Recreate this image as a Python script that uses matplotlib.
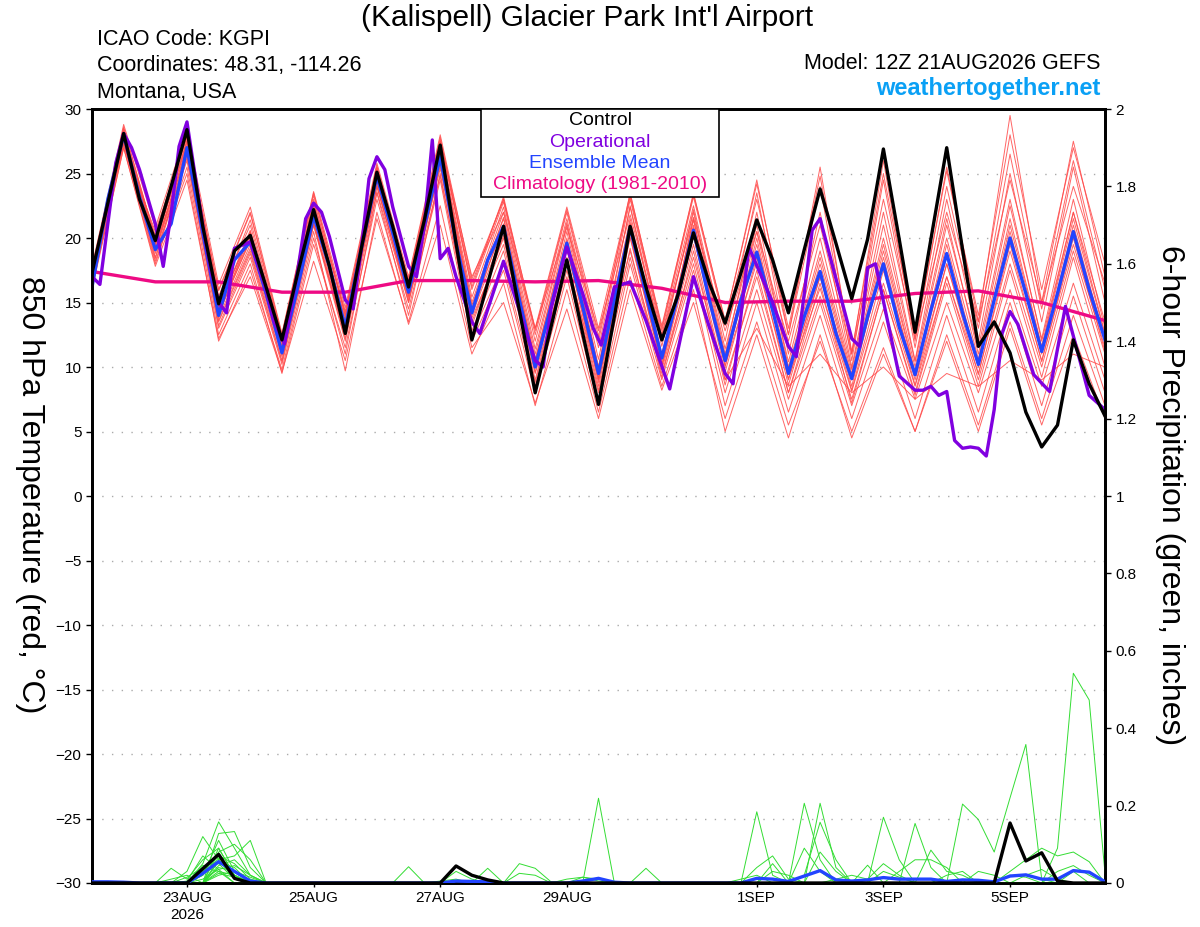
import numpy as np
import matplotlib
matplotlib.use("Agg")
from matplotlib import pyplot as plt
from matplotlib.patches import Rectangle

plt.rcParams['font.family'] = ['Liberation Sans', 'DejaVu Sans']

# forecast hours (GEFS 12Z 21AUG2026 run)
hours = list(range(0, 385, 6))
member_hours = list(range(0, 385, 12))

tick_hours = [36, 84, 132, 180, 252, 300, 348]
tick_labels = ["23AUG\n2026", "25AUG", "27AUG", "29AUG", "1SEP", "3SEP", "5SEP"]

# 850 hPa temperature, deg C
control_temp = [17.3, 22.7, 28.1, 23.0, 19.8, 24.0, 28.4, 20.9, 14.9, 19.0, 20.2, 16.2, 12.1,
                17.3, 22.2, 17.8, 12.6, 19.1, 25.1, 20.9, 16.2, 21.4, 27.2, 19.6, 12.1,
                16.5, 20.9, 14.4, 8.0, 13.1, 18.3, 12.6, 7.1, 13.9, 20.9, 16.2, 12.1,
                15.5, 20.4, 16.5, 13.4, 17.3, 21.4, 18.3, 14.2, 19.1, 23.8, 19.6, 15.3,
                19.9, 26.9, 19.9, 12.7, 19.9, 27.0, 19.1, 11.6, 13.5, 11.1, 6.5, 3.8,
                5.5, 12.1, 8.7, 6.2]
mean_temp = [16.2, 23.0, 28.0, 23.2, 19.1, 21.1, 27.0, 20.4, 14.0, 18.3, 19.7, 15.7, 11.1,
             16.2, 21.7, 17.8, 13.1, 19.1, 24.8, 20.4, 15.8, 20.9, 26.3, 19.6, 14.2,
             18.3, 20.9, 15.2, 10.0, 14.7, 19.6, 14.7, 9.5, 15.2, 20.8, 15.7, 10.7,
             15.5, 20.6, 15.2, 10.5, 15.2, 18.9, 14.4, 9.5, 13.9, 17.4, 12.6, 9.1,
             13.9, 18.0, 13.1, 9.4, 14.4, 18.8, 14.2, 10.2, 15.2, 20.0, 15.7, 11.2,
             15.7, 20.5, 16.0, 12.1]

# operational run has its own (irregular) output hours
op_hours = [0, 3, 9, 12, 15, 18, 24, 27, 30, 33, 36, 42, 45, 48, 51, 54, 60, 66, 69, 73,
            78, 81, 84, 87, 90, 96, 99, 102, 105, 108, 111, 114, 120, 123, 126, 129, 132,
            135, 138, 144, 147, 156, 162, 168, 171, 174, 180, 186, 190, 193, 198, 204,
            210, 219, 228, 234, 240, 243, 249, 258, 264, 267, 273, 276, 288, 291, 294,
            297, 306, 312, 315, 318, 321, 324, 327, 330, 333, 336, 339, 342, 345, 348,
            351, 357, 363, 369, 378, 384]
op_temp = [17.0, 16.4, 25.8, 28.1, 27.0, 25.3, 21.1, 17.8, 21.9, 27.1, 29.0, 20.9, 17.5,
           15.0, 14.2, 19.2, 19.7, 16.0, 13.5, 11.8, 17.5, 21.5, 22.7, 22.0, 20.1, 15.2,
           14.5, 19.0, 24.6, 26.3, 25.3, 22.4, 17.8, 17.0, 21.0, 27.6, 18.4, 19.2, 17.0,
           13.5, 12.6, 18.2, 14.4, 10.5, 10.0, 14.5, 19.3, 15.7, 13.0, 11.7, 16.2, 16.6,
           13.6, 8.3, 17.0, 13.1, 9.5, 8.7, 19.3, 15.0, 11.6, 10.8, 20.6, 21.5, 12.2,
           11.6, 17.7, 18.0, 9.3, 8.2, 8.2, 8.5, 7.8, 8.1, 4.3, 3.7, 3.8, 3.7, 3.1, 6.7,
           12.6, 14.3, 13.3, 9.4, 8.1, 14.7, 7.8, 6.7]

clim_hours = list(range(0, 385, 24))
clim_temp = [17.4, 16.6, 16.6, 15.8, 15.8, 16.7, 16.7, 16.6, 16.7, 16.1, 15.0, 15.1, 15.1,
             15.7, 15.9, 15.0, 13.6]

# ensemble members, 12-hourly
member_temp = [
    [17.0, 27.5, 19.5, 27.5, 14.5, 20.5, 11.5, 22.5, 13.0, 25.0, 16.0, 27.0, 15.0, 22.0, 11.0, 21.0, 10.0, 22.5, 12.0, 22.0, 11.0, 22.0, 10.0, 19.0, 9.5, 20.0, 10.0, 21.0, 11.5, 23.0, 12.0, 22.0, 13.5],
    [16.5, 28.0, 18.5, 26.5, 13.5, 19.0, 10.5, 21.0, 12.5, 24.5, 15.5, 26.0, 13.5, 20.0, 9.0, 18.5, 8.5, 20.0, 10.0, 19.5, 9.0, 17.0, 8.0, 15.5, 7.5, 16.0, 8.0, 17.0, 9.0, 18.0, 10.0, 19.0, 11.0],
    [17.5, 28.5, 20.0, 28.0, 15.5, 21.0, 12.0, 23.0, 14.0, 25.5, 16.5, 27.5, 16.5, 23.0, 12.5, 22.0, 12.0, 23.5, 13.0, 23.5, 13.5, 24.5, 12.5, 25.5, 11.0, 26.0, 12.0, 25.5, 13.5, 29.5, 15.0, 27.5, 17.0],
    [16.0, 27.0, 18.0, 25.5, 12.5, 18.0, 9.5, 19.5, 11.5, 23.0, 14.5, 24.5, 12.0, 17.5, 8.0, 17.0, 7.0, 18.0, 9.0, 17.5, 7.0, 15.0, 6.5, 14.0, 6.0, 13.5, 6.0, 14.0, 6.5, 15.0, 7.0, 15.5, 8.0],
    [17.2, 27.8, 19.8, 27.2, 14.8, 20.2, 11.8, 22.2, 13.8, 24.8, 16.2, 26.8, 14.8, 21.5, 10.5, 20.5, 10.0, 21.5, 11.0, 21.0, 10.5, 19.5, 9.5, 18.0, 9.0, 19.0, 9.5, 19.5, 10.0, 21.0, 11.5, 21.5, 12.5],
    [16.8, 28.2, 19.0, 26.8, 13.8, 19.5, 11.0, 21.5, 12.8, 24.0, 15.2, 25.8, 14.0, 20.5, 10.2, 19.8, 9.0, 21.0, 10.5, 21.5, 10.0, 20.0, 9.0, 17.5, 8.5, 18.5, 9.0, 18.0, 10.0, 20.5, 11.0, 21.0, 12.0],
    [17.4, 27.2, 20.5, 27.8, 16.0, 22.0, 12.5, 23.5, 14.0, 25.2, 16.8, 27.8, 16.0, 22.8, 12.0, 21.5, 11.5, 23.0, 12.5, 22.5, 12.0, 23.5, 11.0, 22.0, 10.0, 22.0, 10.5, 23.0, 12.0, 25.0, 13.5, 25.5, 15.0],
    [16.4, 27.6, 18.8, 26.0, 13.0, 18.5, 10.2, 20.5, 9.7, 22.0, 13.3, 21.0, 11.0, 16.5, 7.0, 16.0, 6.5, 17.0, 8.5, 16.0, 5.0, 12.5, 4.5, 12.5, 4.5, 11.0, 5.0, 12.0, 5.0, 13.0, 5.5, 12.5, 6.0],
    [17.0, 28.0, 19.2, 27.0, 14.2, 19.8, 11.2, 21.8, 13.2, 24.6, 15.6, 26.4, 14.4, 21.0, 10.4, 19.6, 9.6, 20.8, 10.6, 20.8, 10.4, 19.0, 9.4, 17.0, 9.0, 18.0, 9.4, 18.6, 10.2, 20.0, 11.2, 20.5, 12.2],
    [16.6, 28.4, 19.6, 27.4, 14.6, 20.6, 11.6, 22.6, 13.6, 25.2, 16.2, 27.2, 15.4, 22.4, 11.4, 21.2, 10.6, 22.4, 11.6, 22.2, 11.4, 21.0, 10.4, 20.0, 9.8, 21.0, 10.4, 21.5, 11.0, 22.5, 12.2, 23.0, 13.0],
    [17.3, 27.3, 18.2, 25.0, 12.0, 17.5, 9.8, 20.0, 11.0, 23.5, 14.0, 25.0, 12.5, 18.0, 8.5, 17.5, 8.0, 18.5, 9.5, 18.0, 8.0, 16.0, 7.5, 15.0, 7.0, 14.5, 7.5, 15.0, 8.0, 16.0, 8.5, 16.5, 9.0],
    [16.9, 27.9, 20.2, 28.2, 15.2, 21.4, 12.2, 22.8, 14.2, 25.4, 16.4, 27.4, 16.2, 23.2, 12.8, 22.2, 12.4, 23.2, 12.8, 23.2, 13.2, 23.0, 12.5, 24.0, 10.5, 24.5, 11.5, 24.0, 13.0, 26.5, 14.5, 26.0, 16.0],
    [17.1, 27.7, 19.4, 26.6, 14.4, 20.0, 11.4, 21.2, 12.2, 24.2, 15.0, 25.6, 13.8, 19.5, 9.5, 18.0, 9.2, 19.0, 9.8, 18.5, 9.0, 13.0, 8.5, 11.0, 8.0, 10.0, 7.5, 9.5, 8.5, 10.5, 9.0, 11.0, 10.0],
    [16.7, 28.1, 19.1, 27.1, 14.1, 19.9, 11.1, 21.9, 13.1, 24.9, 15.9, 26.1, 14.1, 21.1, 10.1, 19.1, 9.1, 20.1, 10.1, 20.1, 10.1, 18.1, 9.1, 16.1, 8.1, 16.5, 8.5, 17.0, 9.5, 19.0, 10.5, 19.5, 11.5],
    [17.6, 28.6, 19.9, 27.9, 15.9, 21.9, 12.3, 23.3, 14.3, 25.6, 16.6, 27.6, 17.0, 22.0, 13.0, 20.8, 12.8, 21.8, 12.4, 21.6, 12.8, 20.5, 12.0, 21.0, 11.0, 23.0, 12.2, 22.0, 13.5, 24.5, 15.0, 24.0, 16.5],
    [16.3, 27.4, 18.4, 26.2, 13.2, 18.8, 10.4, 21.0, 12.0, 23.6, 15.0, 24.8, 12.8, 19.0, 8.8, 18.2, 8.2, 19.2, 9.2, 19.0, 8.6, 17.5, 8.0, 16.5, 7.2, 16.0, 7.8, 16.5, 8.5, 17.5, 9.2, 18.5, 10.0],
    [17.0, 28.0, 19.6, 27.6, 14.0, 20.4, 11.0, 22.0, 13.4, 24.4, 15.8, 26.6, 14.6, 21.6, 10.6, 20.0, 9.8, 21.2, 10.8, 21.4, 10.8, 20.5, 9.8, 18.5, 9.2, 19.5, 9.6, 20.0, 10.6, 21.5, 11.6, 22.0, 12.6],
    [16.2, 27.0, 17.8, 24.5, 12.2, 17.0, 9.6, 18.2, 10.5, 21.5, 13.5, 22.5, 11.5, 15.0, 7.2, 14.5, 6.0, 16.0, 8.2, 15.0, 6.0, 13.5, 5.5, 12.0, 5.0, 11.5, 5.0, 12.5, 5.5, 13.5, 6.0, 14.0, 7.0],
    [17.8, 28.8, 20.8, 28.4, 16.4, 22.4, 12.6, 23.6, 14.6, 25.8, 17.0, 28.0, 16.8, 23.0, 13.0, 22.4, 13.0, 23.4, 13.2, 23.4, 13.6, 24.2, 13.0, 24.8, 11.2, 25.0, 12.4, 25.2, 14.0, 28.0, 16.0, 27.0, 18.0],
    [17.0, 27.6, 19.0, 26.4, 13.6, 19.2, 10.8, 21.2, 12.6, 24.0, 15.4, 25.4, 13.2, 20.2, 9.6, 19.2, 8.8, 20.4, 10.2, 20.2, 9.6, 18.5, 8.6, 17.0, 8.2, 17.5, 8.6, 18.0, 9.4, 19.5, 10.4, 20.0, 11.2],
]

# 6-hour precipitation (inches), only the non-zero hours are listed
control_precip = {42: 0.037, 48: 0.074, 54: 0.012, 138: 0.044, 144: 0.02, 150: 0.008,
                  348: 0.155, 354: 0.057, 360: 0.078, 366: 0.005}
mean_precip = {0: 0.003, 6: 0.003, 12: 0.002, 42: 0.025, 48: 0.055, 54: 0.03, 60: 0.005,
               138: 0.005, 144: 0.004, 150: 0.003, 186: 0.005, 192: 0.012, 198: 0.002,
               252: 0.012, 258: 0.01, 264: 0.004, 270: 0.018, 276: 0.032, 282: 0.008,
               288: 0.005, 294: 0.008, 300: 0.014, 306: 0.01, 312: 0.01, 318: 0.01,
               324: 0.004, 330: 0.008, 336: 0.007, 342: 0.003, 348: 0.018, 354: 0.021,
               360: 0.01, 366: 0.01, 372: 0.032, 378: 0.028, 384: 0.003}
member_precip = [
    {36: 0.03, 42: 0.12, 48: 0.06, 54: 0.01, 120: 0.042, 252: 0.184, 258: 0.02, 330: 0.204, 336: 0.164, 342: 0.08, 348: 0.22, 354: 0.358, 360: 0.01},
    {42: 0.05, 48: 0.158, 54: 0.09, 60: 0.02, 192: 0.219, 270: 0.206, 276: 0.06, 366: 0.09, 372: 0.542, 378: 0.473, 384: 0.025},
    {48: 0.128, 54: 0.133, 60: 0.04, 276: 0.206, 282: 0.04, 300: 0.17, 306: 0.06},
    {48: 0.06, 54: 0.07, 60: 0.11, 162: 0.05, 168: 0.038, 174: 0.003, 294: 0.046, 312: 0.154, 318: 0.04},
    {30: 0.038, 36: 0.01, 42: 0.06, 48: 0.09, 54: 0.02, 270: 0.02, 276: 0.157, 282: 0.06, 348: 0.03, 354: 0.06, 360: 0.09, 366: 0.07, 372: 0.08, 378: 0.055},
    {42: 0.02, 48: 0.11, 54: 0.03, 150: 0.038, 318: 0.085, 324: 0.03, 330: 0.02},
    {42: 0.03, 48: 0.07, 54: 0.05, 60: 0.01, 258: 0.05, 270: 0.09, 276: 0.03},
    {48: 0.045, 54: 0.06, 60: 0.02, 138: 0.03, 144: 0.01, 282: 0.01, 288: 0.02, 294: 0.01, 300: 0.05, 306: 0.02},
    {36: 0.015, 42: 0.04, 48: 0.03, 306: 0.03, 312: 0.06, 318: 0.06, 324: 0.04},
    {48: 0.09, 54: 0.02, 252: 0.04, 258: 0.07, 264: 0.01},
    {42: 0.01, 48: 0.035, 54: 0.045, 60: 0.02, 186: 0.015, 192: 0.01, 354: 0.02, 360: 0.035, 366: 0.01},
    {48: 0.02, 54: 0.03, 60: 0.015, 246: 0.01, 252: 0.02, 300: 0.03, 306: 0.015},
    {48: 0.055, 54: 0.04, 366: 0.03, 372: 0.045, 378: 0.02},
    {36: 0.005, 42: 0.07, 48: 0.035, 276: 0.08, 282: 0.03, 336: 0.03, 342: 0.02},
    {48: 0.025, 54: 0.015, 162: 0.025, 168: 0.02, 258: 0.03, 264: 0.02},
    {42: 0.045, 48: 0.05, 54: 0.01, 132: 0.005, 138: 0.01, 348: 0.02, 354: 0.015},
    {48: 0.08, 54: 0.1, 60: 0.06, 324: 0.02, 330: 0.03},
    {30: 0.01, 36: 0.02, 48: 0.04, 54: 0.03, 210: 0.038},
    {48: 0.03, 54: 0.02, 180: 0.01, 186: 0.015, 192: 0.005, 372: 0.03},
    {42: 0.02, 48: 0.065, 54: 0.02},
]


def full_series(sparse):
    return [sparse.get(h, 0.0) for h in hours]


fig = plt.figure(figsize=(12, 9.27), dpi=100)
ax = fig.add_axes([92 / 1200, 1 - 883 / 927, 1013 / 1200, 774 / 927])

# temperature
for m in member_temp:
    ax.plot(member_hours, m, color='#ff4a4a', lw=0.7, alpha=0.85, zorder=2)
ax.plot(clim_hours, clim_temp, color='#ee0a84', lw=2.4, zorder=3)
ax.plot(hours, mean_temp, color='#2244ff', lw=2.4, zorder=4)
ax.plot(op_hours, op_temp, color='#8000e0', lw=2.4, zorder=5)
ax.plot(hours, control_temp, color='black', lw=2.4, zorder=6)

ax.set_xlim(0, 384)
ax.set_ylim(-30, 30)
ax.set_yticks(range(-30, 31, 5))
for v in range(-25, 30, 5):
    ax.axhline(v, color='#aaaaaa', lw=1, ls=(0, (1, 6)), zorder=1)
ax.set_xticks(tick_hours)
ax.set_xticklabels(tick_labels, fontsize=11)
ax.tick_params(axis='y', labelsize=11, length=4, width=1)
ax.tick_params(axis='x', length=3, width=1, pad=3)
for s in ax.spines.values():
    s.set_linewidth(2)

# precipitation on the right axis
ax2 = ax.twinx()
for m in member_precip:
    ax2.plot(hours, full_series(m), color='#33dd33', lw=0.7, zorder=2)
ax2.plot(hours, full_series(control_precip), color='black', lw=2.4, zorder=4)
ax2.plot(hours, full_series(mean_precip), color='#2244ff', lw=2.4, zorder=3)
ax2.set_ylim(0, 2)
rticks = [0, 0.2, 0.4, 0.6, 0.8, 1, 1.2, 1.4, 1.6, 1.8, 2]
ax2.set_yticks(rticks)
ax2.set_yticklabels(["0", "0.2", "0.4", "0.6", "0.8", "1", "1.2", "1.4", "1.6", "1.8", "2"])
ax2.tick_params(axis='y', labelsize=11, length=4, width=1)
for s in ax2.spines.values():
    s.set_linewidth(2)

# legend box
ax2.add_patch(Rectangle((0.384, 0.886), 0.235, 0.114, transform=ax2.transAxes,
                        facecolor='white', edgecolor='black', lw=1.2, zorder=10))
leg = [("Control", 'black', 0.9845), ("Operational", '#8000e0', 0.957),
       ("Ensemble Mean", '#2244ff', 0.930), ("Climatology (1981-2010)", '#ee0a84', 0.902)]
for txt, c, yy in leg:
    ax2.text(0.5015, yy, txt, color=c, fontsize=14, ha='center', va='center',
             transform=ax2.transAxes, zorder=11)

# labels
fig.text(0.025, 0.466, "850 hPa Temperature (red, °C)", rotation=270, fontsize=23,
         ha='center', va='center')
fig.text(0.975, 0.466, "6-hour Precipitation (green, inches)", rotation=270, fontsize=23,
         ha='center', va='center')

fig.text(0.489, 0.9806, "(Kalispell) Glacier Park Int'l Airport", fontsize=21.5,
         ha='center', va='center')
fig.text(97 / 1200, 0.957, "ICAO Code: KGPI", fontsize=15.5, ha='left', va='center')
fig.text(97 / 1200, 0.929, "Coordinates: 48.31, -114.26", fontsize=15.5, ha='left', va='center')
fig.text(97 / 1200, 0.900, "Montana, USA", fontsize=15.5, ha='left', va='center')
fig.text(1100 / 1200, 0.931, "Model: 12Z 21AUG2026 GEFS", fontsize=15.5, ha='right', va='center')
fig.text(1100 / 1200, 0.904, "weathertogether.net", fontsize=17, fontweight='bold',
         color='#0aa0f5', ha='right', va='center')

plt.savefig('out.png', dpi=100)
